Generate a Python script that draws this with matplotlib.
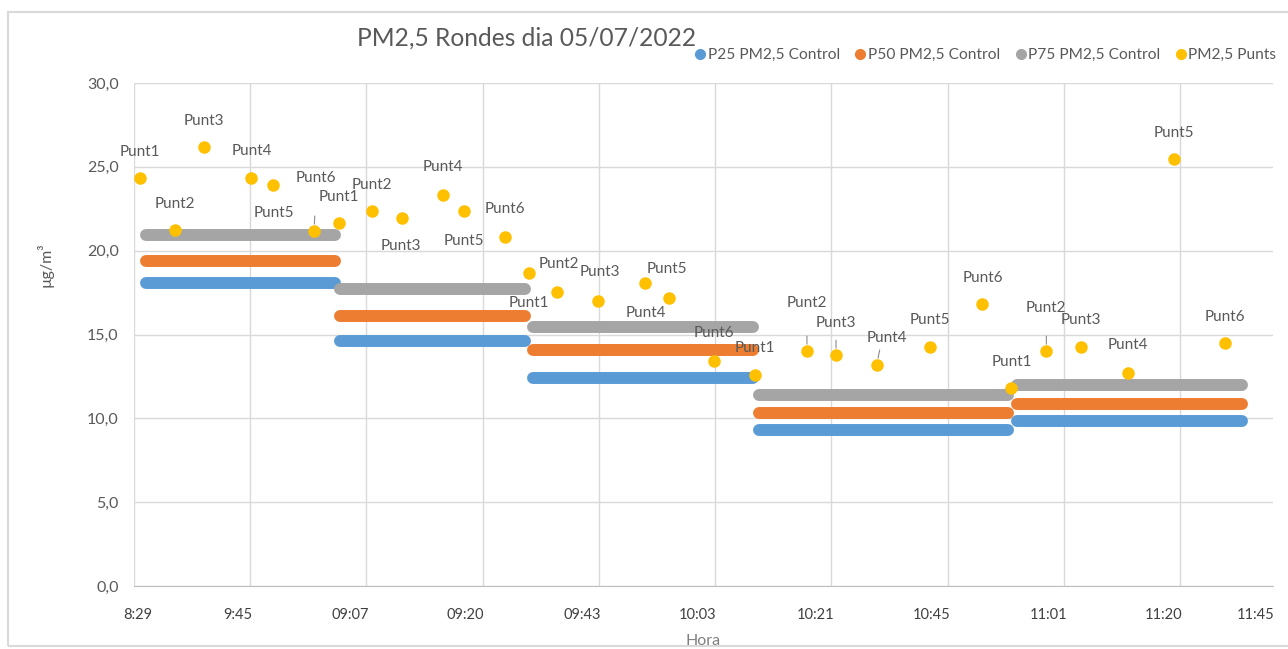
import matplotlib.pyplot as plt
from matplotlib.lines import Line2D
from matplotlib.patches import Rectangle

plt.rcParams['font.family'] = ['Lato', 'DejaVu Sans']

# x in gridline units (1 unit = distance between two vertical gridlines)
tick_pos = [0.03, 0.89, 1.86, 2.85, 3.86, 4.85, 5.86, 6.86, 7.87, 8.86, 9.65]
tick_labels = ['8:29', '9:45', '09:07', '09:20', '09:43', '10:03',
               '10:21', '10:45', '11:01', '11:20', '11:45']

# control percentiles, one value per round
ronda_ini = [0.10, 1.77, 3.43, 5.38, 7.60]
ronda_fi = [1.73, 3.36, 5.33, 7.52, 9.53]
p25 = [18.1, 14.6, 12.4, 9.3, 9.85]
p50 = [19.4, 16.1, 14.05, 10.3, 10.85]
p75 = [20.95, 17.7, 15.45, 11.4, 12.0]

# measured points, 6 per round
punts_x = [0.05, 0.35, 0.60, 1.01, 1.20, 1.55,
           1.76, 2.05, 2.31, 2.66, 2.84, 3.19,
           3.40, 3.64, 3.99, 4.40, 4.60, 4.99,
           5.34, 5.79, 6.04, 6.39, 6.85, 7.30,
           7.55, 7.85, 8.15, 8.55, 8.95, 9.39]
punts_y = [24.33, 21.23, 26.18, 24.33, 23.91, 21.17,
           21.65, 22.36, 21.94, 23.32, 22.36, 20.81,
           18.66, 17.53, 16.99, 18.07, 17.17, 13.42,
           12.58, 14.01, 13.77, 13.18, 14.25, 16.82,
           11.81, 14.01, 14.25, 12.70, 25.46, 14.49]
punts_nom = ['Punt1', 'Punt2', 'Punt3', 'Punt4', 'Punt5', 'Punt6'] * 5

# label offsets in pixels (dx, dy) and which labels have a leader line
lab_off = [(0, 26), (0, 26), (0, 26), (0, 27), (0, -28), (2, 53),
           (0, 26), (0, 26), (-2, -28), (0, 28), (0, -30), (0, 28),
           (0, -30), (2, 28), (2, 29), (0, -30), (-2, 29), (0, 28),
           (0, 27), (0, 48), (0, 32), (10, 27), (0, 27), (0, 26),
           (0, 26), (0, 43), (0, 27), (0, 28), (0, 26), (0, 26)]
leader = [5, 19, 20, 21, 25]

c25, c50, c75, cp = '#5B9BD5', '#ED7D31', '#A5A5A5', '#FFC000'
txt = '#595959'

fig = plt.figure(figsize=(12.88, 6.49), dpi=100)
ax = fig.add_axes([134/1288, 1-586/649, (1273-134)/1288, (586-83)/649])

for vals, col in [(p25, c25), (p50, c50), (p75, c75)]:
    for i in range(len(vals)):
        ax.plot([ronda_ini[i], ronda_fi[i]], [vals[i], vals[i]], color=col,
                lw=8.6, solid_capstyle='round', zorder=3)

ax.plot(punts_x, punts_y, 'o', color=cp, markersize=8, zorder=5)

for i in range(len(punts_x)):
    ax.annotate(punts_nom[i], (punts_x[i], punts_y[i]), xytext=lab_off[i],
                textcoords='offset pixels', ha='center', va='center',
                fontsize=11, color=txt, zorder=6)
    if i in leader:
        ax.annotate('', (punts_x[i], punts_y[i]), xytext=(lab_off[i][0] * 0.3, 15),
                    textcoords='offset pixels',
                    arrowprops=dict(arrowstyle='-', color='#8c8c8c', lw=0.8,
                                    shrinkA=0, shrinkB=5), zorder=4)

ax.set_xlim(0, 9.8)
ax.set_ylim(0, 30)
ax.set_yticks(range(0, 31, 5))
ax.set_yticklabels([f'{v},0' for v in range(0, 31, 5)])
ax.set_xticks(tick_pos)
ax.set_xticklabels(tick_labels)
ax.set_xticks(range(10), minor=True)
ax.tick_params(axis='x', which='both', length=0, pad=16, labelsize=10.5, labelcolor='#404040')
ax.tick_params(axis='y', length=0, pad=11, labelsize=11.5, labelcolor=txt)
ax.grid(axis='y', color='#d9d9d9', lw=1)
ax.grid(axis='x', which='minor', color='#d9d9d9', lw=1)
ax.set_axisbelow(True)
for s in ['top', 'right', 'left']:
    ax.spines[s].set_visible(False)
ax.spines['bottom'].set_color('#bfbfbf')

fig.text(527/1288, 1-38/649, 'PM2,5 Rondes dia 05/07/2022', ha='center', va='center',
         fontsize=17.7, color=txt)
fig.text(45/1288, 1-265/649, 'µg/m³', rotation=90, ha='center', va='center',
         fontsize=11.5, color=txt)
fig.text(703/1288, 1-641/649, 'Hora', ha='center', va='center', fontsize=11.5, color='#7f7f7f')

handles = [Line2D([], [], ls='', marker='o', markersize=7, color=c) for c in (c25, c50, c75, cp)]
fig.legend(handles, ['P25 PM2,5 Control', 'P50 PM2,5 Control', 'P75 PM2,5 Control', 'PM2,5 Punts'],
           loc='center', bbox_to_anchor=(986/1288, 1-55/649), ncol=4, frameon=False,
           fontsize=11.2, labelcolor=txt, handlelength=0.6, handletextpad=0.2,
           columnspacing=1.0)

fig.patches.append(Rectangle((8/1288, 3/649), 1.2, (649-12-3)/649, transform=fig.transFigure,
                             fill=False, edgecolor='#d9d9d9', lw=1.5))

fig.savefig('out.png', dpi=100)
